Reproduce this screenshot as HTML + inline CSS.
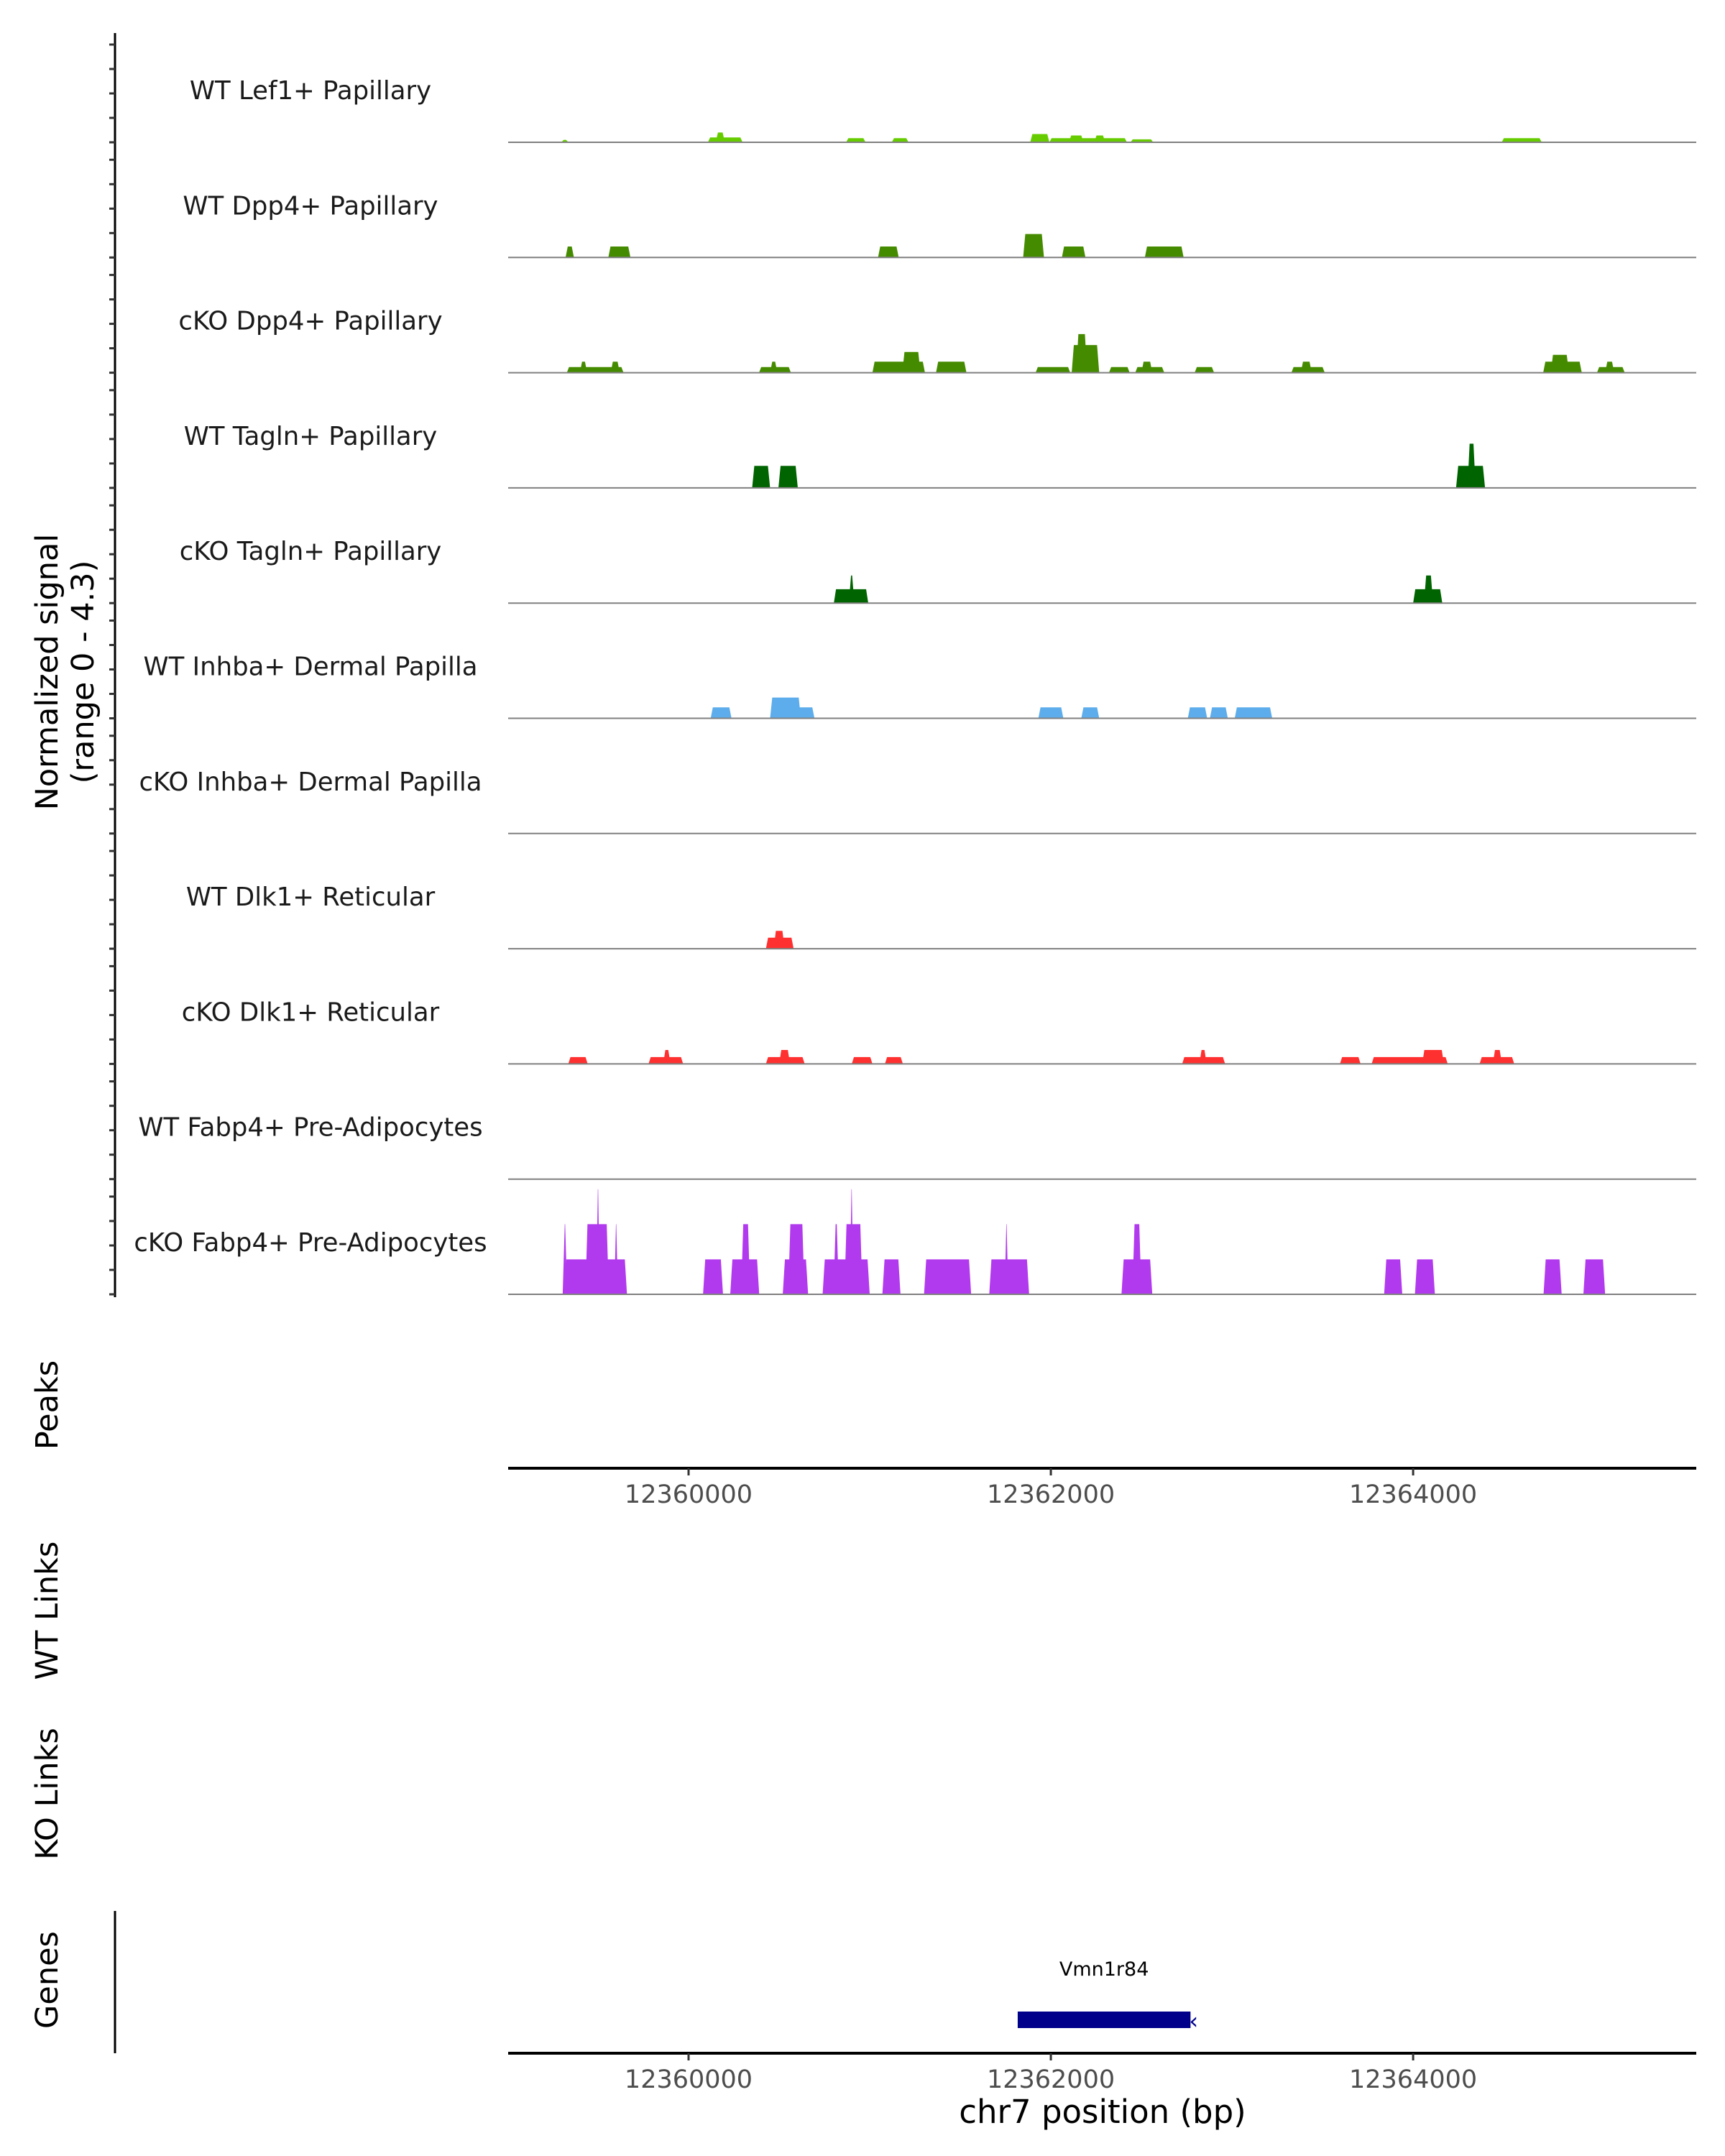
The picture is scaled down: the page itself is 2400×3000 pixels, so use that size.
<!DOCTYPE html>
<html><head><meta charset="utf-8"><style>
html,body{margin:0;padding:0;background:#fff}
svg{display:block}
text{font-family:"DejaVu Sans","Liberation Sans",sans-serif}
</style></head><body>
<svg id="chart" width="2400" height="3000" viewBox="0 0 2400 3000" xmlns="http://www.w3.org/2000/svg">
<g id="tracks"></g>
<line x1="160" y1="46" x2="160" y2="1805" stroke="#000" stroke-width="3"/>
<g id="yticks"></g>
<text transform="translate(80,935) rotate(-90)" text-anchor="middle" font-size="43">Normalized signal</text>
<text transform="translate(130,935) rotate(-90)" text-anchor="middle" font-size="43">(range 0 - 4.3)</text>
<text transform="translate(80,1955) rotate(-90)" text-anchor="middle" font-size="43">Peaks</text>
<text transform="translate(80,2241) rotate(-90)" text-anchor="middle" font-size="43">WT Links</text>
<text transform="translate(80,2496) rotate(-90)" text-anchor="middle" font-size="43">KO Links</text>
<text transform="translate(80,2755) rotate(-90)" text-anchor="middle" font-size="43">Genes</text>
<line x1="160" y1="2659" x2="160" y2="2857" stroke="#000" stroke-width="3"/>
<g id="axes"></g>
<g id="genes"></g>
<text x="1534" y="2954" text-anchor="middle" font-size="45">chr7 position (bp)</text>
</svg>
<script>
const trackNames = ["WT Lef1+ Papillary","WT Dpp4+ Papillary","cKO Dpp4+ Papillary","WT Tagln+ Papillary","cKO Tagln+ Papillary","WT Inhba+ Dermal Papilla","cKO Inhba+ Dermal Papilla","WT Dlk1+ Reticular","cKO Dlk1+ Reticular","WT Fabp4+ Pre-Adipocytes","cKO Fabp4+ Pre-Adipocytes"];
const trackColors = ["#66CC00","#458B00","#458B00","#006400","#006400","#5DADEC","#5DADEC","#FF3030","#FF3030","#B23AEE","#B23AEE"];
// segments: [startBp, endBp, value]
const lef1WT = [[12359298,12359336,0.1],[12360107,12360298,0.2],[12360150,12360200,0.4],[12360870,12360977,0.17],[12361122,12361214,0.17],[12361886,12361992,0.34],[12361992,12362420,0.17],[12362100,12362180,0.28],[12362240,12362300,0.28],[12362440,12362565,0.12],[12364489,12364710,0.17]];
const dpp4WT = [[12359321,12359367,0.45],[12359557,12359679,0.45],[12361046,12361160,0.45],[12361847,12361962,0.96],[12362061,12362191,0.45],[12362519,12362733,0.45]];
const dpp4KO = [[12359328,12359641,0.23],[12359400,12359440,0.45],[12359570,12359620,0.45],[12360389,12360565,0.23],[12360450,12360490,0.45],[12361015,12361305,0.45],[12361180,12361280,0.85],[12361366,12361534,0.45],[12361916,12362107,0.23],[12362115,12362267,1.13],[12362140,12362200,1.58],[12362321,12362435,0.23],[12362466,12362626,0.23],[12362500,12362560,0.45],[12362794,12362901,0.23],[12363328,12363512,0.23],[12363380,12363440,0.45],[12364718,12364931,0.45],[12364760,12364860,0.73],[12365015,12365168,0.23],[12365060,12365110,0.45]];
const taglnWT = [[12360351,12360450,0.9],[12360496,12360603,0.9],[12364237,12364397,0.9],[12364300,12364345,1.81]];
const taglnKO = [[12360802,12360992,0.57],[12360885,12360915,1.13],[12364000,12364161,0.57],[12364060,12364110,1.13]];
const inhbaWT = [[12360122,12360237,0.45],[12360450,12360695,0.45],[12360450,12360620,0.85],[12361931,12362069,0.45],[12362168,12362267,0.45],[12362756,12362863,0.45],[12362878,12362977,0.45],[12363015,12363222,0.45]];
const inhbaKO = [];
const dlk1WT = [[12360427,12360580,0.45],[12360470,12360530,0.73]];
const dlk1KO = [[12359336,12359443,0.28],[12359779,12359970,0.28],[12359860,12359900,0.57],[12360427,12360641,0.28],[12360500,12360560,0.57],[12360901,12361015,0.28],[12361084,12361183,0.28],[12362725,12362962,0.28],[12362820,12362860,0.57],[12363596,12363710,0.28],[12363771,12364191,0.28],[12364050,12364170,0.57],[12364367,12364558,0.28],[12364440,12364490,0.57]];
const fabp4WT = [];
const fabp4KO = [[12359313,12359660,1.43],[12359305,12359330,2.87],[12359430,12359560,2.87],[12359490,12359510,4.3],[12359590,12359610,2.87],[12360080,12360190,1.43],[12360230,12360390,1.43],[12360290,12360340,2.87],[12360520,12360660,1.43],[12360550,12360640,2.87],[12360740,12361000,1.43],[12360800,12360830,2.87],[12360860,12360960,2.87],[12360890,12360910,4.3],[12361070,12361170,1.43],[12361300,12361560,1.43],[12361660,12361880,1.43],[12361745,12361765,2.87],[12362390,12362560,1.43],[12362450,12362500,2.87],[12363840,12363940,1.43],[12364010,12364120,1.43],[12364720,12364820,1.43],[12364940,12365060,1.43]];
const trackData = [lef1WT,dpp4WT,dpp4KO,taglnWT,taglnKO,inhbaWT,inhbaKO,dlk1WT,dlk1KO,fabp4WT,fabp4KO];
const tickValues = [0,1,2,3,4];
const xTickValues = [12360000,12362000,12364000];
const xTickLabels = ["12360000","12362000","12364000"];
const geneStart = 12361817, geneEnd = 12362771, geneName = "Vmn1r84";

const NS = "http://www.w3.org/2000/svg";
const X0 = 707, X1 = 2360, BP0 = 12359004, BP1 = 12365563;
function xs(bp){ return X0 + (bp-BP0)/(BP1-BP0)*(X1-X0); }
const UNIT = 34;
function ys(base, v){ return base - v*UNIT; }
function baseOf(i){ return 198 + i*160.3; }
function mk(tag, attrs, parent){ const e=document.createElementNS(NS,tag); for(const k in attrs) e.setAttribute(k,attrs[k]); parent.appendChild(e); return e; }

const tracks = document.getElementById('tracks');
const yt = document.getElementById('yticks');
trackNames.forEach((name,i)=>{
  const b = baseOf(i);
  const g = mk('g',{},tracks);
  
  
  const t = mk('text',{x:432,y:b-60,'text-anchor':'middle','font-size':35.5,fill:'#1a1a1a'},g);
  t.textContent = name;
  
  
  trackData[i].forEach(s=>{
    const xa=xs(s[0]), xb=xs(s[1]), top=ys(b,s[2]);
    const tp=Math.min(3,(xb-xa)/2.2);
    const p = mk('polygon',{points:`${xa},${b} ${xa+tp},${top} ${xb-tp},${top} ${xb},${b}`,fill:trackColors[i]},g);
    
    
  });
  const ln = mk('line',{x1:X0,x2:X1,y1:b,y2:b,stroke:'#808080','stroke-width':2},g);
  
  
  tickValues.forEach(v=>{
    const tk = mk('line',{x1:152,x2:160,y1:ys(b,v),y2:ys(b,v),stroke:'#333','stroke-width':3},yt);
    
    
  });
});

const axes = document.getElementById('axes');
[[2043,2079],[2857,2893]].forEach(([ay,ly])=>{
  const al = mk('line',{x1:X0,x2:X1,y1:ay,y2:ay,stroke:'#000','stroke-width':4},axes);
  
  
  xTickValues.forEach((v,k)=>{
    const tk = mk('line',{x1:xs(v),x2:xs(v),y1:ay,y2:ay+10,stroke:'#333','stroke-width':3},axes);
    
    
    const tl = mk('text',{x:xs(v),y:ly+12,'text-anchor':'middle','font-size':35,fill:'#4d4d4d'},axes);
    tl.textContent = xTickLabels[k];
    
    
  });
});

const genes = document.getElementById('genes');
const gr = mk('rect',{x:xs(geneStart),y:2799,width:xs(geneEnd)-xs(geneStart),height:23,fill:'#00008B'},genes);


const ga = mk('text',{x:xs(geneEnd)-2,y:2823,'font-size':32,fill:'#00008B'},genes);
ga.textContent = "‹";


const gl = mk('text',{x:(xs(geneStart)+xs(geneEnd))/2,y:2749,'text-anchor':'middle','font-size':27,fill:'#000'},genes);
gl.textContent = geneName;


</script>
</body></html>
